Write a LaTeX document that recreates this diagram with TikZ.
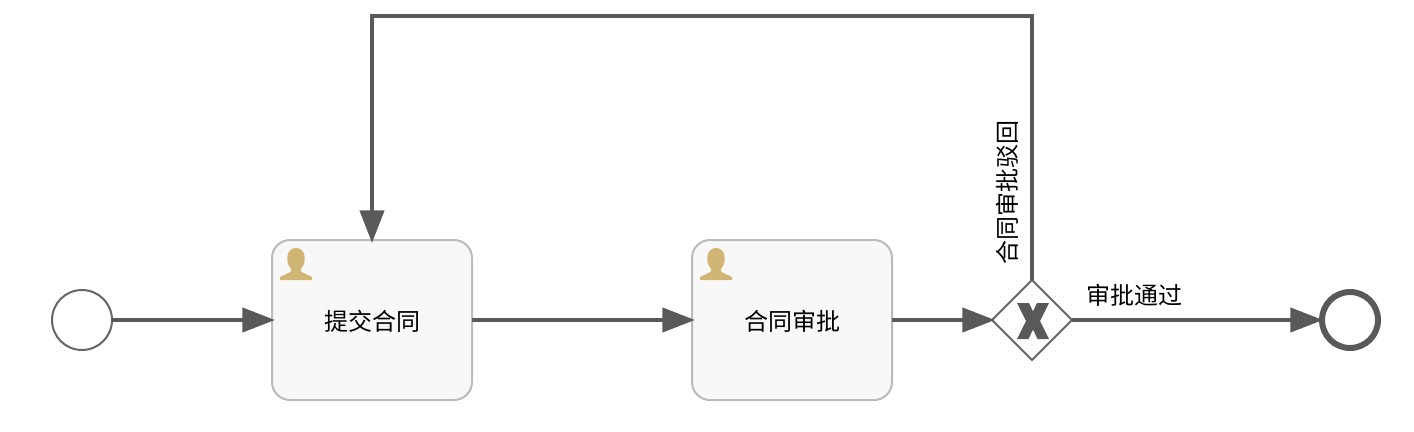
\documentclass[tikz,border=0pt]{standalone}
\usepackage{fontspec}
\setmainfont{Noto Sans CJK SC}
\usetikzlibrary{arrows.meta,shapes.geometric}
\definecolor{flow}{HTML}{595959}
\definecolor{ring}{HTML}{666666}
\definecolor{taskline}{HTML}{BBBBBB}
\definecolor{taskfill}{HTML}{F8F8F8}
\definecolor{usericon}{HTML}{D1B574}
\tikzset{
  x=0.75pt,y=-0.75pt,
  flowline/.style={draw=flow,line width=3.3pt,-{Triangle[length=24.5pt,width=18pt]},shorten >=-2.25pt},
  taskbox/.style={draw=taskline,fill=taskfill,line width=1.5pt,rounded corners=13.5pt,minimum width=150pt,minimum height=120pt,inner sep=0pt,outer sep=0pt,font=\fontsize{18pt}{22pt}\selectfont},
  startev/.style={circle,draw=ring,fill=white,line width=1.5pt,minimum size=45pt,inner sep=0pt,outer sep=0pt},
  endev/.style={circle,draw=flow,fill=white,line width=4.5pt,minimum size=42pt,inner sep=0pt,outer sep=0pt},
  gate/.style={diamond,aspect=1,draw=ring,fill=white,line width=1.5pt,minimum size=60pt,inner sep=0pt,outer sep=0pt},
  lab/.style={inner sep=0pt,font=\fontsize{18pt}{22pt}\selectfont},
}
\newcommand{\usershape}[2]{%
  \fill[usericon,shift={(#1,#2)}] (0,32) -- (0,29) -- (10.5,24) .. controls (11.5,23) and (11.5,21.5) .. (10.5,20)
   .. controls (5.5,15) and (5.5,0) .. (16,0) .. controls (26.5,0) and (26.5,15) .. (21.5,20)
   .. controls (20.5,21.5) and (20.5,23) .. (21.5,24) -- (32,29) -- (32,32) -- cycle;}
\newcommand{\downtext}[1]{\raisebox{0pt}[\dimexpr\height+1.5pt\relax]{#1}}
\begin{document}
\begin{tikzpicture}
\useasboundingbox (0,0) rectangle (1414,432);
\node[startev] (start) at (82,320) {};
\node[taskbox] (submit) at (372,320) {\downtext{提交合同}};
\node[taskbox] (review) at (792,320) {\downtext{合同审批}};
\node[gate] (gw) at (1032,320) {};
\node[endev] (end) at (1350,320) {};
\coordinate (upr) at (1032,16);
\coordinate (upl) at (372,16);
\usershape{280}{248}
\usershape{700}{248}
\fill[flow] (1017,303) -- (1029,303) -- (1033,311.5) -- (1037,303) -- (1049,303) -- (1040,321) -- (1049,339) -- (1037.5,339) -- (1033,329.5) -- (1028.5,339) -- (1017,339) -- (1026,321) -- cycle;
\draw[flowline] (start) -- (submit);
\draw[flowline] (submit) -- (review);
\draw[flowline] (review) -- (gw);
\draw[flowline,shorten >=-0.75pt] (gw) -- (end);
\draw[flowline,line join=miter] (gw.north) -- (upr) -- (upl) -- (submit.north);
\node[lab,rotate=90] (backlab) at (1007,192) {合同审批驳回};
\node[lab] (passlab) at (1134.5,295.5) {审批通过};
\end{tikzpicture}
\end{document}
